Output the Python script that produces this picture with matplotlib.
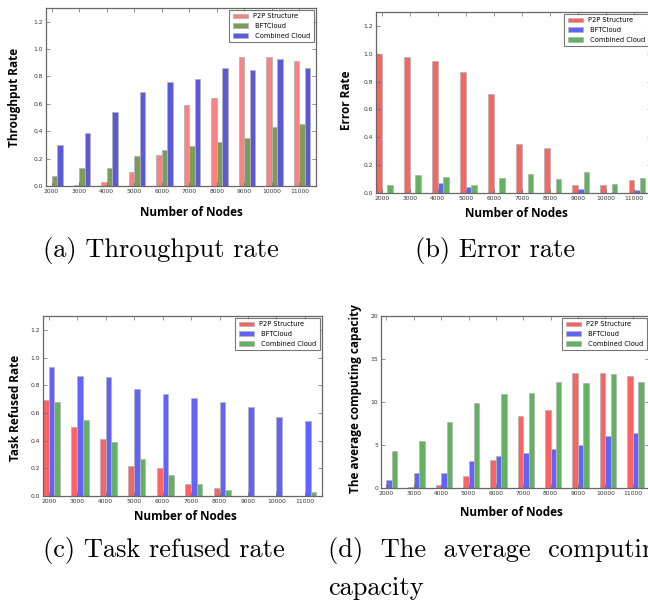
import matplotlib.pyplot as plt
import numpy as np

W, H = 648, 603

nodes = ["2000", "3000", "4000", "5000", "6000", "7000", "8000", "9000", "10000", "11000"]
series_names = ["P2P Structure", " BFTCloud", " Combined Cloud"]

# (a) throughput rate
thr_p2p = [0.0, 0.01, 0.03, 0.10, 0.23, 0.59, 0.64, 0.94, 0.94, 0.91]
thr_bft = [0.07, 0.13, 0.13, 0.22, 0.26, 0.29, 0.32, 0.35, 0.43, 0.45]
thr_comb = [0.30, 0.39, 0.54, 0.69, 0.76, 0.78, 0.86, 0.85, 0.93, 0.86]

# (b) error rate
err_p2p = [1.0, 0.98, 0.95, 0.87, 0.71, 0.35, 0.32, 0.06, 0.06, 0.09]
err_bft = [0.0, 0.0, 0.07, 0.04, 0.0, 0.0, 0.0, 0.03, 0.0, 0.02]
err_comb = [0.06, 0.13, 0.115, 0.055, 0.105, 0.14, 0.10, 0.15, 0.065, 0.11]

# (c) task refused rate
ref_p2p = [0.69, 0.50, 0.41, 0.22, 0.20, 0.09, 0.06, 0.0, 0.0, 0.0]
ref_bft = [0.93, 0.87, 0.86, 0.77, 0.74, 0.71, 0.68, 0.64, 0.57, 0.54]
ref_comb = [0.68, 0.55, 0.39, 0.27, 0.15, 0.09, 0.04, 0.0, 0.0, 0.03]

# (d) average computing capacity
cap_p2p = [0.0, 0.15, 0.4, 1.4, 3.2, 8.4, 9.1, 13.4, 13.4, 13.0]
cap_bft = [0.9, 1.8, 1.8, 3.1, 3.7, 4.1, 4.5, 5.0, 6.1, 6.4]
cap_comb = [4.3, 5.5, 7.7, 9.9, 10.9, 11.1, 12.3, 12.2, 13.3, 12.3]

LABEL_FONT = ["Open Sans", "DejaVu Sans"]
CAPTION_FONT = ["cmr10", "DejaVu Serif"]


def px_axes(fig, left, top, right, bottom):
    return fig.add_axes([left / W, 1 - bottom / H, (right - left) / W, (bottom - top) / H])


def fig_xy(x, y):
    return x / W, 1 - y / H


def bar_panel(ax, series, colors, ylim, yticks, yfmt, ylabel, xlab_xy, ylab_xy):
    ind = np.arange(len(nodes))
    width = 0.2
    for i, (vals, name, col) in enumerate(zip(series, series_names, colors)):
        ax.bar(ind + i * width, vals, width, align="edge", color=col,
               edgecolor="#b4b4b4", linewidth=0.6, label=name)
    ax.set_xlim(0, 9.8)
    ax.set_ylim(*ylim)
    ax.set_xticks(ind + width)
    ax.set_xticklabels(nodes)
    ax.set_yticks(yticks)
    ax.set_yticklabels([yfmt.format(v) for v in yticks])
    ax.tick_params(direction="in", length=3, width=0.5, color="#666666",
                   labelsize=4.3, labelcolor="#333333", pad=2,
                   top=True, right=True)
    for sp in ax.spines.values():
        sp.set_color("#666666")
        sp.set_linewidth(0.9)

    ax.set_xlabel("Number of Nodes", fontsize=8.5, fontweight="bold", family=LABEL_FONT)
    ax.set_ylabel(ylabel, fontsize=8.5, fontweight="bold", family=LABEL_FONT)
    ax.xaxis.set_label_coords(*fig_xy(*xlab_xy), transform=ax.figure.transFigure)
    ax.yaxis.set_label_coords(*fig_xy(*ylab_xy), transform=ax.figure.transFigure)
    ax.xaxis.label.set_va("center")
    ax.yaxis.label.set_va("center")

    leg = ax.legend(loc="upper right", fontsize=4.8, fancybox=False, frameon=True,
                    borderaxespad=0.3, handlelength=2.3, handleheight=0.7,
                    handletextpad=0.8, labelspacing=0.55, borderpad=0.5)
    leg.get_frame().set_edgecolor("#555555")
    leg.get_frame().set_linewidth(0.8)


fig = plt.figure(figsize=(W / 100, H / 100), dpi=100)

ax_a = px_axes(fig, 46, 8, 316, 186)
bar_panel(ax_a, [thr_p2p, thr_bft, thr_comb], ["#ff8080", "#7d9c58", "#5a5ad8"],
          (0, 1.3), [0.0, 0.2, 0.4, 0.6, 0.8, 1.0, 1.2], "{:.1f}",
          "Throughput Rate", (191, 212), (15, 97))

ax_b = px_axes(fig, 376, 12, 651, 193)
bar_panel(ax_b, [err_p2p, err_bft, err_comb], ["#ff6262", "#6262ff", "#62b262"],
          (0, 1.3), [0.0, 0.2, 0.4, 0.6, 0.8, 1.0, 1.2], "{:.1f}",
          "Error Rate", (516, 213), (346, 100))

ax_c = px_axes(fig, 43, 316, 322, 496)
bar_panel(ax_c, [ref_p2p, ref_bft, ref_comb], ["#ff6262", "#6262ff", "#62b262"],
          (0, 1.3), [0.0, 0.2, 0.4, 0.6, 0.8, 1.0, 1.2], "{:.1f}",
          "Task Refused Rate", (185, 516), (16, 408))

ax_d = px_axes(fig, 381, 316, 649, 488)
bar_panel(ax_d, [cap_p2p, cap_bft, cap_comb], ["#ff6262", "#6262ff", "#62b262"],
          (0, 20), [0, 5, 10, 15, 20], "{:d}",
          "The average computing capacity", (511, 512), (355, 399))

# sub-figure captions
cap_kw = dict(fontsize=19, family=CAPTION_FONT, va="center", ha="left")
fig.text(*fig_xy(43, 251), "(a) Throughput rate", **cap_kw)
fig.text(*fig_xy(415, 251), "(b) Error rate", **cap_kw)
fig.text(*fig_xy(43, 550), "(c) Task refused rate", **cap_kw)
fig.text(*fig_xy(328, 550), "(d)  The  average  computing", **cap_kw)
fig.text(*fig_xy(328, 588), "capacity", **cap_kw)

fig.savefig("out.png", dpi=100)
